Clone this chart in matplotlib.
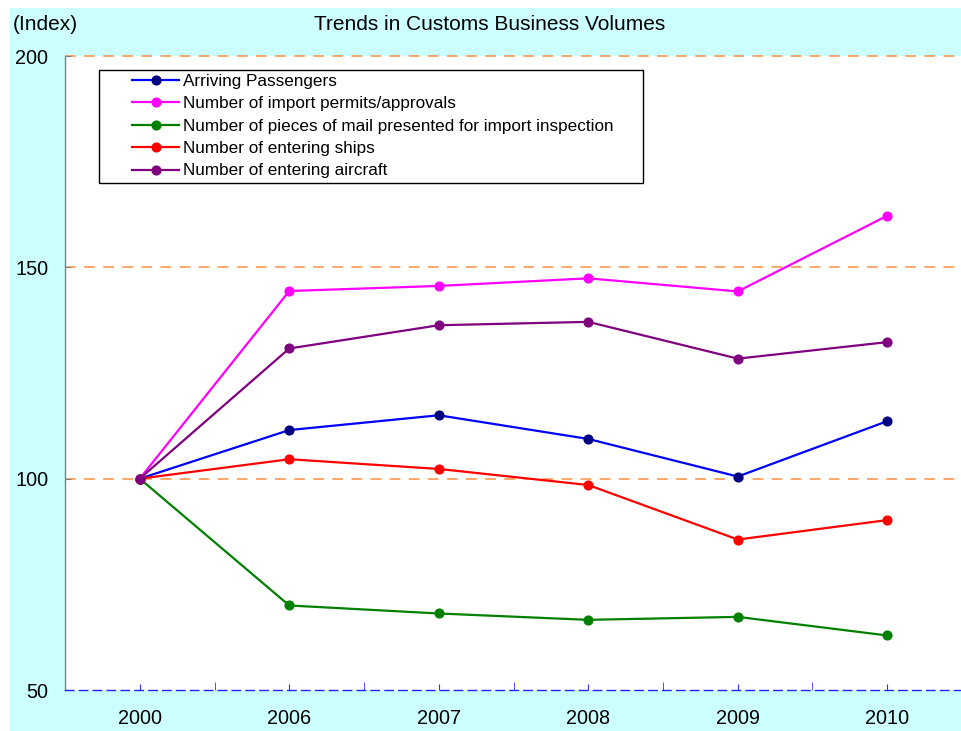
import matplotlib
matplotlib.use("Agg")
import matplotlib.pyplot as plt
from matplotlib.patches import Rectangle
from matplotlib.legend_handler import HandlerLine2D
import numpy as np

plt.rcParams['font.family'] = ['Liberation Sans', 'DejaVu Sans']

years = ["2000", "2006", "2007", "2008", "2009", "2010"]
arriving_passengers = [100, 111.5, 115.0, 109.4, 100.5, 113.6]
import_permits = [100, 144.4, 145.6, 147.4, 144.3, 162.2]
mail_pieces = [100, 70.0, 68.1, 66.6, 67.3, 62.9]
entering_ships = [100, 104.6, 102.3, 98.5, 85.6, 90.2]
entering_aircraft = [100, 130.8, 136.3, 137.1, 128.4, 132.3]

series_labels = [
    "Arriving Passengers",
    "Number of import permits/approvals",
    "Number of pieces of mail presented for import inspection",
    "Number of entering ships",
    "Number of entering aircraft",
]
line_colors = ["#0000FF", "#FF00FF", "#008000", "#FF0000", "#800080"]
marker_colors = ["#000080", "#FF00FF", "#008000", "#FF0000", "#800080"]
y_ticks = [50, 100, 150, 200]
grid_levels = [100, 150, 200]

W, H = 962, 731
fig = plt.figure(figsize=(W / 100, H / 100), dpi=100, facecolor="white")
fig.patches.append(Rectangle((10 / W, 0), 1, (H - 8) / H, transform=fig.transFigure,
                             facecolor="#CCFFFF", edgecolor="none", zorder=-10))

ax = fig.add_axes([65 / W, 1 - 690 / H, (962 - 65) / W, (690 - 56) / H])
ax.set_facecolor("white")

x = np.arange(len(years))
all_series = [arriving_passengers, import_permits, mail_pieces, entering_ships, entering_aircraft]
for vals, lab, lc, mc in zip(all_series, series_labels, line_colors, marker_colors):
    ax.plot(x, vals, color=lc, lw=1.6, marker="o", ms=6.3, mfc=mc, mec=mc,
            label=lab, zorder=3, solid_joinstyle="round")

for g in grid_levels:
    ax.axhline(g, color="#FF9040", lw=1.1, ls=(0, (7, 5.5)), clip_on=False, zorder=1)

ax.set_xlim(-0.5, len(years) - 0.5)
ax.set_ylim(50, 200)

for s in ["top", "right"]:
    ax.spines[s].set_visible(False)
ax.spines["left"].set_color("#808080")
ax.spines["left"].set_linewidth(1.0)
ax.spines["bottom"].set_color("#2222FF")
ax.spines["bottom"].set_linewidth(1.0)
ax.spines["bottom"].set_linestyle((0, (6, 4)))

ax.set_xticks(x)
ax.set_xticklabels(years)
ax.set_xticks(np.arange(-0.5, len(years), 1.0), minor=True)
ax.tick_params(axis="x", which="major", direction="in", length=4, color="#3333FF",
               labelsize=14.3, pad=14)
ax.tick_params(axis="x", which="minor", direction="in", length=6, color="#3333FF")
ax.set_yticks(y_ticks)
ax.tick_params(axis="y", direction="in", length=4, color="#808080", labelsize=14.3, pad=12)

fig.text(13 / W, 1 - 24 / H, "(Index)", fontsize=15, va="center", ha="left")
fig.text(490 / W, 1 - 24 / H, "Trends in Customs Business Volumes", fontsize=15,
         va="center", ha="center")


class HandlerShift(HandlerLine2D):
    def __init__(self, offset, **kw):
        super().__init__(**kw)
        self.offset = offset

    def create_artists(self, legend, orig_handle, xdescent, ydescent, width, height, fontsize, trans):
        return super().create_artists(legend, orig_handle, xdescent - self.offset, ydescent,
                                      width - self.offset, height, fontsize, trans)


fs = 12.3
fs_px = fs * 100 / 72
offset_px = 29 / 100 * 72  # points
handles, labels = ax.get_legend_handles_labels()
x0 = (99 - 65) / (962 - 65)
x1 = (643 - 65) / (962 - 65)
ytop = (690 - 70) / (690 - 56)
leg = ax.legend(handles, labels, loc="upper left", bbox_to_anchor=(x0, 0.5, x1 - x0, ytop - 0.5),
                mode="expand", borderaxespad=0, borderpad=0.24, fontsize=fs,
                handlelength=76 / fs_px, handletextpad=0.25, labelspacing=0.43,
                numpoints=1, fancybox=False, framealpha=1, edgecolor="black",
                handler_map={h: HandlerShift(offset_px) for h in handles})
leg.get_frame().set_linewidth(1.0)
leg.set_zorder(5)

fig.savefig("out.png", dpi=100)
